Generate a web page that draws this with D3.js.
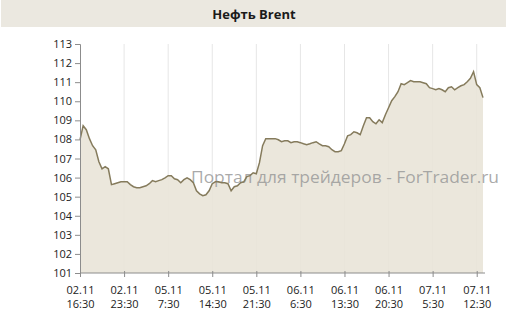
<!DOCTYPE html>
<html>
<head>
<meta charset="utf-8">
<script src="https://cdn.jsdelivr.net/npm/d3@7"></script>
<style>
  body { margin: 0; background: #fff; }
  text { font-family: "Open Sans", "DejaVu Sans", sans-serif; }
</style>
</head>
<body>
<div class="chart"></div>
<script>
const WIDTH = 506;
const HEIGHT = 333;
const MARGINS = {left: 80, right: 23, top: 44, bottom: 60};

// half-hour quotes, 02.11 16:30 .. 07.11 13:30
const prices = [
  107.98, 108.72, 108.51, 108.04, 107.67, 107.46, 106.83, 106.46, 106.57, 106.46,
  105.63, 105.68, 105.73, 105.78, 105.78, 105.78, 105.63, 105.52, 105.47, 105.47,
  105.52, 105.57, 105.68, 105.84, 105.78, 105.84, 105.89, 105.99, 106.10, 106.10,
  105.94, 105.89, 105.73, 105.89, 105.99, 105.89, 105.73, 105.31, 105.15, 105.05,
  105.10, 105.31, 105.68, 105.78, 105.78, 105.73, 105.73, 105.68, 105.31, 105.52,
  105.57, 105.73, 105.78, 106.05, 106.10, 106.25, 106.20, 106.78, 107.67, 108.04,
  108.04, 108.04, 108.04, 107.98, 107.88, 107.93, 107.93, 107.83, 107.88, 107.88,
  107.83, 107.77, 107.72, 107.77, 107.83, 107.88, 107.77, 107.67, 107.67, 107.62,
  107.46, 107.36, 107.36, 107.41, 107.77, 108.19, 108.25, 108.40, 108.35, 108.25,
  108.72, 109.14, 109.14, 108.93, 108.82, 109.03, 108.88, 109.29, 109.66, 110.03,
  110.24, 110.50, 110.92, 110.87, 110.97, 111.08, 111.02, 111.02, 111.02, 110.97,
  110.92, 110.71, 110.66, 110.60, 110.66, 110.60, 110.50, 110.71, 110.76, 110.60,
  110.71, 110.81, 110.87, 111.02, 111.20, 111.55, 110.87, 110.71, 110.19
];

const xTickIndex = [0, 14, 28, 42, 56, 70, 84, 98, 112, 126];
const xTickDates = ["02.11", "02.11", "05.11", "05.11", "05.11", "06.11", "06.11", "06.11", "07.11", "07.11"];
const xTickTimes = ["16:30", "23:30", "7:30", "14:30", "21:30", "6:30", "13:30", "20:30", "5:30", "12:30"];
const yTicks = [101, 102, 103, 104, 105, 106, 107, 108, 109, 110, 111, 112, 113];

const svg = d3.select(".chart")
    .append("svg")
    .attr("width", WIDTH)
    .attr("height", HEIGHT);

// title bar
svg.append("rect")
    .attr("x", 1).attr("y", 0)
    .attr("width", WIDTH - 1).attr("height", 27)
    .attr("fill", "#ebe8e0");

svg.append("text")
    .attr("x", 254).attr("y", 19)
    .attr("text-anchor", "middle")
    .attr("font-size", "13px")
    .attr("font-weight", "bold")
    .attr("fill", "#1a1a1a")
    .text("Нефть Brent");

const x = d3.scaleLinear()
    .domain([0, prices.length - 1])
    .range([MARGINS.left, WIDTH - MARGINS.right]);

const y = d3.scaleLinear()
    .domain([101, 113])
    .range([HEIGHT - MARGINS.bottom, MARGINS.top]);

// vertical grid
svg.append("g")
    .selectAll("line")
    .data(xTickIndex.slice(1))
    .enter().append("line")
    .attr("x1", d => x(d)).attr("x2", d => x(d))
    .attr("y1", y(113)).attr("y2", y(101))
    .attr("stroke", "#e6e6e6")
    .attr("stroke-width", 1);

const area = d3.area()
    .x((d, i) => x(i))
    .y0(y(101))
    .y1(d => y(d));

svg.append("path")
    .datum(prices)
    .attr("d", area)
    .attr("fill", "#e9e4d8")
    .attr("fill-opacity", 0.9);

// watermark
svg.append("text")
    .attr("x", 191).attr("y", 183)
    .attr("font-size", "16px")
    .attr("fill", "#9a9a9a")
    .attr("fill-opacity", 0.85)
    .attr("textLength", 308)
    .attr("lengthAdjust", "spacingAndGlyphs")
    .text("Портал для трейдеров - ForTrader.ru");

const line = d3.line()
    .x((d, i) => x(i))
    .y(d => y(d));

svg.append("path")
    .datum(prices)
    .attr("d", line)
    .attr("fill", "none")
    .attr("stroke", "#857b5c")
    .attr("stroke-width", 1.5);

// y axis
const yAxis = svg.append("g")
    .attr("transform", "translate(" + MARGINS.left + ",0)")
    .call(d3.axisLeft(y).tickValues(yTicks).tickFormat(d3.format("d")).tickSize(5).tickPadding(3));
yAxis.select(".domain").attr("stroke", "#8c8c8c");
yAxis.selectAll(".tick line").attr("stroke", "#8c8c8c");
yAxis.selectAll("text")
    .attr("font-size", "11px")
    .attr("fill", "#222")
    .attr("font-family", "\"Open Sans\", sans-serif");

// x axis
const xAxis = svg.append("g")
    .attr("transform", "translate(0," + y(101) + ")")
    .call(d3.axisBottom(x).tickValues(xTickIndex).tickSize(0).tickFormat(""));
xAxis.select(".domain")
    .attr("stroke", "#8c8c8c")
    .attr("d", "M" + MARGINS.left + ",0H" + (WIDTH - MARGINS.right + 2));
xAxis.selectAll(".tick line")
    .attr("stroke", "#8c8c8c")
    .attr("y1", -2).attr("y2", 4);

const labels = xAxis.selectAll(".tick")
    .append("text")
    .attr("fill", "#222")
    .attr("font-size", "11px")
    .attr("text-anchor", "middle");
labels.append("tspan")
    .attr("x", 0).attr("y", 21)
    .text((d, i) => xTickDates[i]);
labels.append("tspan")
    .attr("x", 0).attr("y", 35)
    .text((d, i) => xTickTimes[i]);
</script>
</body>
</html>
